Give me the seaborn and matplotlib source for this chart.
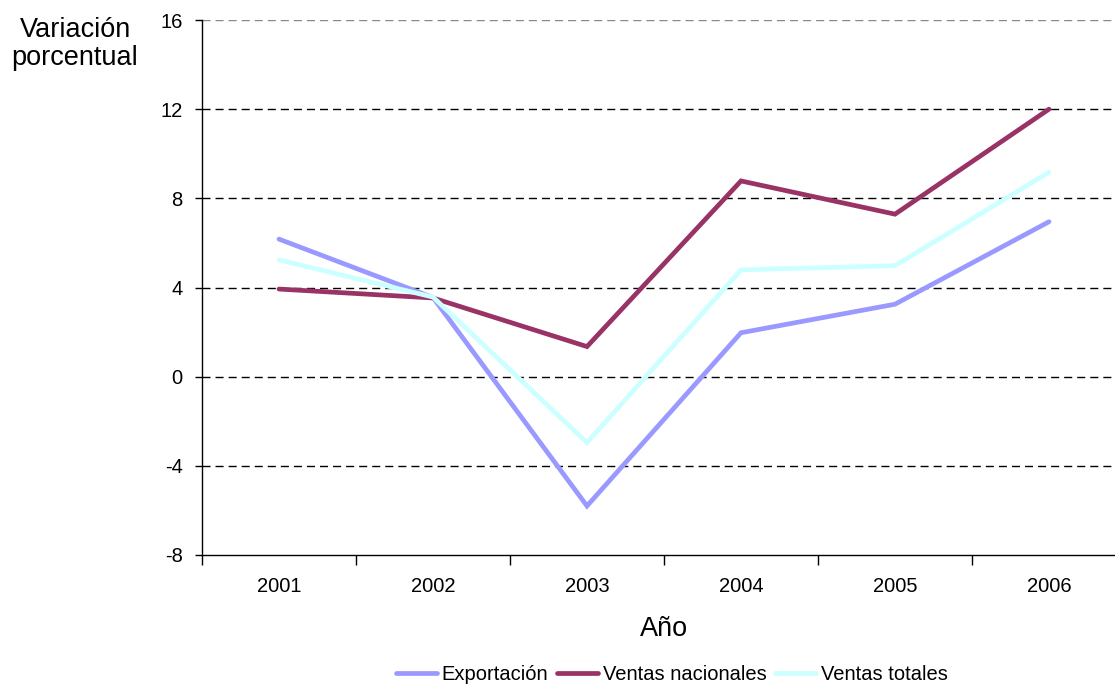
import matplotlib
matplotlib.use("Agg")
import matplotlib.pyplot as plt
import seaborn as sns
import pandas as pd
from matplotlib.lines import Line2D

# Annual percentage change by series
years = ["2001", "2002", "2003", "2004", "2005", "2006"]
exportacion = [6.17, 3.55, -5.80, 1.97, 3.25, 6.95]
ventas_nacionales = [3.93, 3.53, 1.35, 8.78, 7.29, 12.0]
ventas_totales = [5.24, 3.57, -2.96, 4.79, 4.98, 9.17]

series_names = ["Exportación", "Ventas nacionales", "Ventas totales"]
series_colors = ["#9999FF", "#993366", "#CCFFFF"]
y_ticks = [-8, -4, 0, 4, 8, 12, 16]

df = pd.DataFrame({
    "Año": list(range(len(years))) * 3,
    "valor": exportacion + ventas_nacionales + ventas_totales,
    "serie": [s for s in series_names for _ in years],
})

sns.set_style("white")
plt.rcParams["font.family"] = ["Liberation Sans", "DejaVu Sans"]
plt.rcParams["text.color"] = "black"
plt.rcParams["xtick.color"] = "black"
plt.rcParams["ytick.color"] = "black"
plt.rcParams["axes.labelcolor"] = "black"

fig = plt.figure(figsize=(11.15, 6.86), dpi=100)
ax = fig.add_axes([202 / 1115, 131 / 686, 924 / 1115, 535 / 686])

# Horizontal dashed reference lines
for v in y_ticks[1:]:
    ax.axhline(v, color="#888888" if v == 16 else "black", lw=1.0,
               dashes=(5.8, 3.6), zorder=1)

sns.lineplot(data=df, x="Año", y="valor", hue="serie",
             hue_order=series_names, palette=series_colors,
             linewidth=3.4, legend=False, ax=ax, zorder=3,
             solid_joinstyle="miter", solid_capstyle="round")

ax.set_ylim(-8, 16)
ax.set_yticks(y_ticks)
ax.set_yticklabels([str(v) for v in y_ticks])
ax.set_xlim(-0.5, len(years) - 0.5)
ax.set_xticks(range(len(years)))
ax.set_xticklabels(years)
ax.set_xticks([i - 0.5 for i in range(len(years) + 1)], minor=True)

ax.tick_params(axis="x", which="major", length=0, pad=16, labelsize=14.5)
ax.tick_params(axis="x", which="minor", length=7, width=1, color="black",
               direction="out", bottom=True)
ax.tick_params(axis="y", length=5, width=1, color="black", direction="out",
               pad=9, labelsize=14.5, left=True)

for side in ["top", "right"]:
    ax.spines[side].set_visible(False)
for side in ["left", "bottom"]:
    ax.spines[side].set_color("black")
    ax.spines[side].set_linewidth(1.0)

ax.set_xlabel("Año", fontsize=19.5, labelpad=14)
ax.set_ylabel("")
fig.text(75 / 1115, 1 - 44 / 686, "Variación\nporcentual", ha="center",
         va="center", fontsize=19.5, linespacing=1.1)

handles = [Line2D([0], [0], color=c, lw=3.4) for c in series_colors]
fig.legend(handles, series_names, loc="center", ncol=3,
           bbox_to_anchor=(672 / 1115, 1 - 675 / 686), frameon=False,
           fontsize=14.5, handlelength=2.0, handletextpad=0.25,
           columnspacing=0.45, borderaxespad=0)

fig.savefig("out.png", dpi=100)
